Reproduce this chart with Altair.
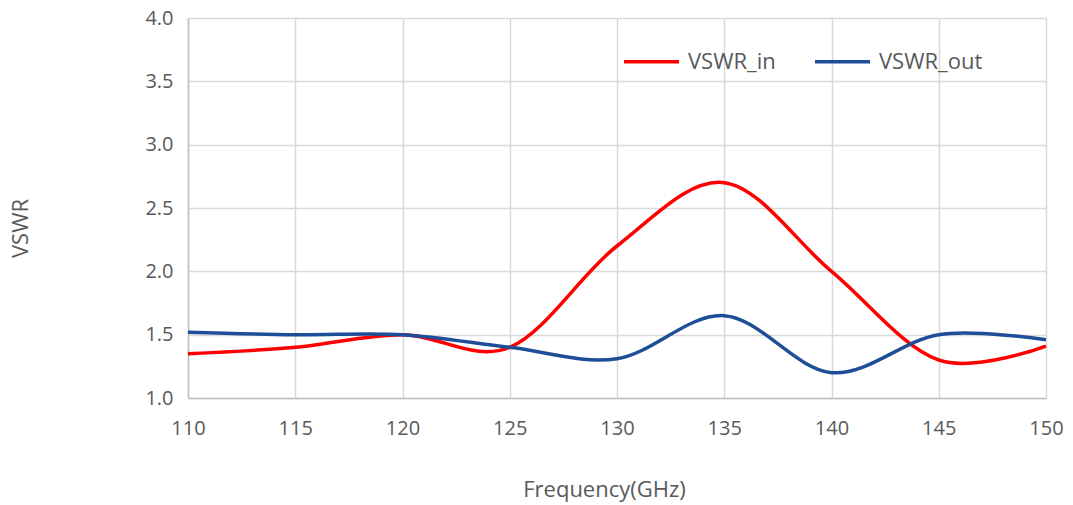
import altair as alt
import pandas as pd

freq = [110, 115, 120, 125, 130, 135, 140, 145, 150]
vswr_in = [1.35, 1.40, 1.50, 1.40, 2.20, 2.70, 2.00, 1.30, 1.41]
vswr_out = [1.52, 1.50, 1.50, 1.40, 1.31, 1.65, 1.20, 1.50, 1.46]
series = ["VSWR_in", "VSWR_out"]
colors = ["#FF0000", "#1F4E98"]

df = pd.concat([
    pd.DataFrame({"f": freq, "v": vswr_in, "s": series[0]}),
    pd.DataFrame({"f": freq, "v": vswr_out, "s": series[1]}),
])

FONT = "Open Sans"
GRAY = "#595959"

chart = alt.Chart(df).mark_line(interpolate="cardinal", strokeWidth=3.5).encode(
    x=alt.X("f:Q", scale=alt.Scale(domain=[110, 150], nice=False, zero=False),
            axis=alt.Axis(values=list(range(110, 151, 5)), title="Frequency(GHz)",
                          labelFontSize=20, labelColor=GRAY, labelPadding=20, labelFlush=False,
                          titleFontSize=22, titleColor=GRAY, titleFontWeight="normal",
                          titleX=416, titleY=91, titleAlign="center", titleBaseline="middle",
                          ticks=False, domainColor="#BFBFBF", domainWidth=1.5,
                          gridColor="#D9D9D9", gridWidth=1.5, labelFont=FONT, titleFont=FONT)),
    y=alt.Y("v:Q", scale=alt.Scale(domain=[1.0, 4.0], nice=False, zero=False),
            axis=alt.Axis(values=[1.0, 1.5, 2.0, 2.5, 3.0, 3.5, 4.0], format=".1f", title="VSWR",
                          labelFontSize=20, labelColor=GRAY, labelPadding=15, labelFlush=False,
                          titleFontSize=22, titleColor=GRAY, titleFontWeight="normal",
                          titleX=-168, titleY=210, titleAlign="center", titleBaseline="middle",
                          ticks=False, domainColor="#BFBFBF", domainWidth=1.5,
                          gridColor="#D9D9D9", gridWidth=1.5, labelFont=FONT, titleFont=FONT)),
    color=alt.Color("s:N", scale=alt.Scale(domain=series, range=colors),
                    legend=alt.Legend(title=None, orient="none", direction="horizontal",
                                      legendX=434, legendY=14, symbolType="stroke",
                                      symbolSize=3025, symbolStrokeWidth=3.5,
                                      labelFontSize=22, labelColor=GRAY, labelFont=FONT,
                                      labelOffset=7, columnPadding=32)),
).properties(
    width=858, height=380,
    autosize=alt.AutoSizeParams(type="none"),
    padding={"left": 180, "top": 10, "right": 19, "bottom": 104},
).configure_view(stroke=None)

chart.save("out.html", embed_options={"renderer": "svg", "actions": False})
